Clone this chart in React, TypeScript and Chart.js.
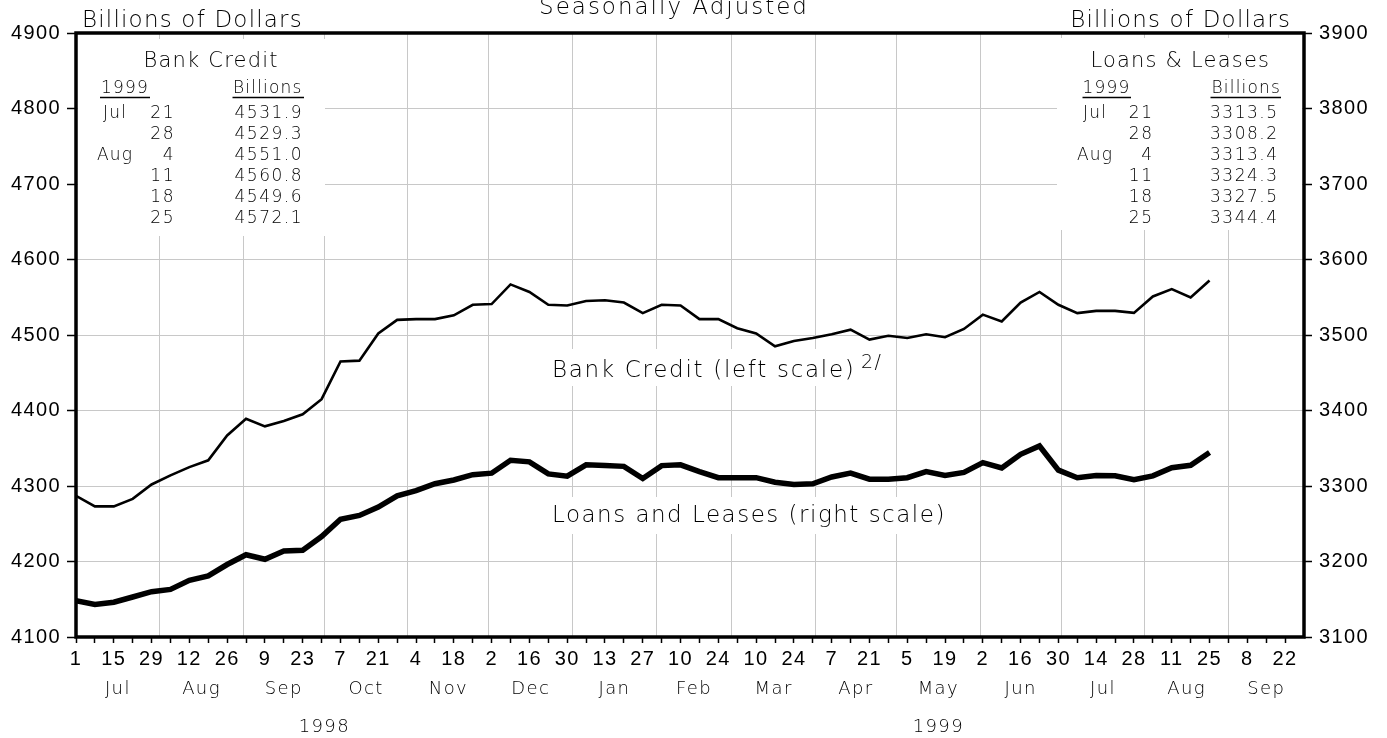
import React, { useEffect, useRef } from 'react';
import { Chart, registerables } from 'chart.js';

Chart.register(...registerables);

// ---------- data ----------
const weekDates = [
  '1998-07-01', '1998-07-08', '1998-07-15', '1998-07-22', '1998-07-29',
  '1998-08-05', '1998-08-12', '1998-08-19', '1998-08-26',
  '1998-09-02', '1998-09-09', '1998-09-16', '1998-09-23', '1998-09-30',
  '1998-10-07', '1998-10-14', '1998-10-21', '1998-10-28',
  '1998-11-04', '1998-11-11', '1998-11-18', '1998-11-25',
  '1998-12-02', '1998-12-09', '1998-12-16', '1998-12-23', '1998-12-30',
  '1999-01-06', '1999-01-13', '1999-01-20', '1999-01-27',
  '1999-02-03', '1999-02-10', '1999-02-17', '1999-02-24',
  '1999-03-03', '1999-03-10', '1999-03-17', '1999-03-24', '1999-03-31',
  '1999-04-07', '1999-04-14', '1999-04-21', '1999-04-28',
  '1999-05-05', '1999-05-12', '1999-05-19', '1999-05-26',
  '1999-06-02', '1999-06-09', '1999-06-16', '1999-06-23', '1999-06-30',
  '1999-07-07', '1999-07-14', '1999-07-21', '1999-07-28',
  '1999-08-04', '1999-08-11', '1999-08-18', '1999-08-25',
];

const bankCredit = [
  4287, 4273, 4273, 4283, 4302,
  4314, 4325, 4334, 4367,
  4389, 4379, 4386, 4395, 4415,
  4465, 4466, 4502, 4520,
  4521, 4521, 4526, 4540,
  4541, 4567, 4557, 4540, 4539,
  4545, 4546, 4543, 4529,
  4540, 4539, 4521, 4521,
  4509, 4502, 4485, 4492, 4496,
  4501, 4507, 4494, 4499,
  4496, 4501, 4497, 4508,
  4527, 4518, 4543, 4557, 4540,
  4529, 4532, 4531.9, 4529.3,
  4551.0, 4560.8, 4549.6, 4572.1,
];

const loansLeases = [
  3148, 3143, 3146, 3153, 3160,
  3163, 3175, 3181, 3196,
  3209, 3203, 3214, 3215, 3233,
  3256, 3261, 3272, 3287,
  3294, 3303, 3308, 3315,
  3317, 3334, 3332, 3316, 3313,
  3328, 3327, 3326, 3310,
  3327, 3328, 3319, 3311,
  3311, 3311, 3305, 3302, 3303,
  3312, 3317, 3309, 3309,
  3311, 3319, 3314, 3318,
  3331, 3324, 3342, 3353, 3321,
  3311, 3314, 3313.5, 3308.2,
  3313.4, 3324.3, 3327.5, 3344.4,
];

const extraTickDates = ['1999-09-01', '1999-09-08', '1999-09-15', '1999-09-22'];
const axisStart = '1998-07-01';
const axisEnd = '1999-09-29';

const dayTickLabels = [
  '1', '15', '29', '12', '26', '9', '23', '7', '21', '4', '18', '2', '16', '30',
  '13', '27', '10', '24', '10', '24', '7', '21', '5', '19', '2', '16', '30',
  '14', '28', '11', '25', '8', '22',
];

const monthStarts = [
  '1998-07-01', '1998-08-01', '1998-09-01', '1998-10-01', '1998-11-01', '1998-12-01',
  '1999-01-01', '1999-02-01', '1999-03-01', '1999-04-01', '1999-05-01', '1999-06-01',
  '1999-07-01', '1999-08-01', '1999-09-01', '1999-10-01',
];
const monthLabels = ['Jul', 'Aug', 'Sep', 'Oct', 'Nov', 'Dec', 'Jan', 'Feb', 'Mar', 'Apr', 'May', 'Jun', 'Jul', 'Aug', 'Sep'];

const yearStarts = ['1998-07-01', '1999-01-01', '2000-01-01'];
const yearLabels = ['1998', '1999'];

const leftMin = 4100, leftMax = 4900;
const rightMin = 3100, rightMax = 3900;
const yStep = 100;

const tableMonths = ['Jul', '', 'Aug', '', '', ''];
const tableDays = ['21', '28', '4', '11', '18', '25'];
const tableYear = '1999';

const titleText = 'Seasonally Adjusted';
const unitText = 'Billions of Dollars';
const bankInsetTitle = 'Bank Credit';
const loansInsetTitle = 'Loans & Leases';
const bankLabel = 'Bank Credit (left scale)';
const bankNote = '2/';
const loansLabel = 'Loans and Leases (right scale)';

// ---------- helpers ----------
const BASE = Date.parse(axisStart);
const dayOf = (s: string) => (Date.parse(s) - BASE) / 864e5;
const X_MIN = 0;
const X_MAX = dayOf(axisEnd);

const tickDates = [...weekDates, ...extraTickDates];
const monthMids = monthLabels.map((_, i) => {
  const a = Math.max(X_MIN, dayOf(monthStarts[i]));
  const b = Math.min(X_MAX, dayOf(monthStarts[i + 1]));
  return (a + b) / 2;
});
const yearMids = yearLabels.map((_, i) => {
  const a = Math.max(X_MIN, dayOf(yearStarts[i]));
  const b = Math.min(X_MAX, dayOf(yearStarts[i + 1]));
  return (a + b) / 2;
});

const SANS = '"DejaVu Sans", sans-serif';
const WEIGHT = '200';
const GRID = '#c8c8c8';

// pick the narrowest installed face for the numeric tick labels
function pickTickFont() {
  const c = document.createElement('canvas').getContext('2d') as CanvasRenderingContext2D;
  const m = (f: string) => { c.font = f; return c.measureText('0123456789').width / 1000; };
  const mono = m('100px monospace');
  const dvNormal = m('100px "DejaVu Sans"');
  const cands = [
    { weight: 'normal', family: '"Liberation Sans Narrow"' },
    { weight: 'normal', family: '"DejaVu Sans Condensed"' },
    { weight: 'condensed', family: '"DejaVu Sans"' },
    { weight: 'normal', family: '"Liberation Sans"' },
    { weight: 'normal', family: '"DejaVu Sans"' },
  ];
  let best = { weight: 'normal', family: '"DejaVu Sans"', r: dvNormal };
  for (const cd of cands) {
    const withMono = m(`${cd.weight} 100px ${cd.family}, monospace`);
    const available = cd.weight === 'condensed' ? withMono < dvNormal - 0.005 : Math.abs(withMono - mono) > 0.003;
    if (available && withMono < best.r) best = { ...cd, r: withMono };
  }
  const pitch = 12.5;
  let size = Math.round(Math.min(23, Math.max(17, (pitch - 1.5) / best.r)));
  let ls = Math.max(0.5, pitch - size * best.r);
  return { family: best.family, weight: best.weight, size, ls };
}
const TICK = pickTickFont();

function txt(ctx: CanvasRenderingContext2D, s: string, x: number, y: number, size: number,
  align: CanvasTextAlign = 'left', ls = 0) {
  ctx.save();
  ctx.font = `${WEIGHT} ${size}px ${SANS}`;
  (ctx as any).letterSpacing = `${ls}px`;
  ctx.textAlign = align;
  ctx.textBaseline = 'alphabetic';
  ctx.fillStyle = '#000';
  let dx = 0;
  if (align === 'right') dx = ls;
  else if (align === 'center') dx = ls / 2;
  ctx.fillText(s, x + dx, y);
  ctx.restore();
}

function hline(ctx: CanvasRenderingContext2D, x1: number, x2: number, y: number) {
  ctx.save();
  ctx.strokeStyle = '#000';
  ctx.lineWidth = 1.5;
  ctx.beginPath();
  ctx.moveTo(x1, y);
  ctx.lineTo(x2, y);
  ctx.stroke();
  ctx.restore();
}

function drawInset(ctx: CanvasRenderingContext2D, title: string, values: number[],
  box: number[], titleX: number, yearX: number, yearUl: number[], bilX: number, bilUl: number[],
  monX: number, dayX: number, valX: number) {
  ctx.save();
  ctx.fillStyle = '#fff';
  ctx.fillRect(box[0], box[1], box[2], box[3]);
  ctx.restore();
  txt(ctx, title, titleX, 66.5, 21, 'center', 1.2);
  txt(ctx, tableYear, yearX, 92.5, 17, 'left', 1.2);
  hline(ctx, yearUl[0], yearUl[1], 97.5);
  txt(ctx, 'Billions', bilX, 92.5, 17, 'left', 1.2);
  hline(ctx, bilUl[0], bilUl[1], 97.5);
  const last = values.slice(-tableDays.length);
  tableDays.forEach((d, i) => {
    const y = 118 + i * 20.9;
    if (tableMonths[i]) txt(ctx, tableMonths[i], monX, y, 17, 'center', 1.2);
    txt(ctx, d, dayX, y, 17, 'right', 1.5);
    txt(ctx, last[i].toFixed(1), valX, y, 17, 'right', 1.5);
  });
}

const decorPlugin = {
  id: 'decor',
  beforeDraw(chart: any) {
    chart.ctx.letterSpacing = `${TICK.ls}px`;
  },
  beforeDatasetsDraw(chart: any) {
    const ctx = chart.ctx as CanvasRenderingContext2D;
    (ctx as any).letterSpacing = '0px';
    drawInset(ctx, bankInsetTitle, bankCredit, [78, 39, 247, 197], 210.5, 101, [100, 150], 233, [232.5, 304],
      114.5, 173.5, 301.5);
    drawInset(ctx, loansInsetTitle, loansLeases, [1057, 38, 245, 192], 1179.7, 1082.5, [1082.5, 1131], 1211.5, [1210.5, 1281],
      1094.5, 1152, 1277);
    // label masks
    ctx.save();
    ctx.fillStyle = '#fff';
    ctx.fillRect(545, 349, 350, 37);
    ctx.fillRect(545, 497, 418, 37);
    ctx.restore();
    txt(ctx, bankLabel, 552, 377, 23, 'left', 1.7);
    txt(ctx, bankNote, 861, 368, 19, 'left', 1.5);
    txt(ctx, loansLabel, 552, 522, 23, 'left', 1.5);
  },
  afterDraw(chart: any) {
    const ctx = chart.ctx as CanvasRenderingContext2D;
    (ctx as any).letterSpacing = '0px';
    const a = chart.chartArea;
    ctx.save();
    ctx.strokeStyle = '#000';
    ctx.lineWidth = 3.5;
    ctx.strokeRect(a.left, a.top, a.right - a.left, a.bottom - a.top);
    ctx.restore();
    txt(ctx, titleText, 673, 14, 23, 'center', 2);
    txt(ctx, unitText, 82, 26.5, 23, 'left', 1.2);
    txt(ctx, unitText, 1290, 26.5, 23, 'right', 1.2);
  },
};

const tickFont = { family: TICK.family, size: TICK.size, weight: TICK.weight };

export default function App() {
  const ref = useRef<HTMLCanvasElement>(null);

  useEffect(() => {
    if (!ref.current) return;
    const chart = new Chart(ref.current, {
      type: 'line',
      data: {
        datasets: [
          {
            label: 'Bank Credit',
            data: weekDates.map((d, i) => ({ x: dayOf(d), y: bankCredit[i] })),
            xAxisID: 'x',
            yAxisID: 'y',
            borderColor: '#000',
            borderWidth: 2.6,
            pointRadius: 0,
            tension: 0,
            fill: false,
          },
          {
            label: 'Loans and Leases',
            data: weekDates.map((d, i) => ({ x: dayOf(d), y: loansLeases[i] })),
            xAxisID: 'x',
            yAxisID: 'y2',
            borderColor: '#000',
            borderWidth: 5.5,
            pointRadius: 0,
            tension: 0,
            fill: false,
          },
        ],
      },
      options: {
        responsive: false,
        animation: false,
        events: [],
        layout: { padding: { top: 33, left: 0, right: 0, bottom: 0 } },
        plugins: { legend: { display: false }, tooltip: { enabled: false }, title: { display: false } },
        scales: {
          x: {
            type: 'linear',
            position: 'bottom',
            weight: 0,
            min: X_MIN,
            max: X_MAX,
            afterBuildTicks: (s: any) => { s.ticks = tickDates.map((d) => ({ value: dayOf(d) })); },
            afterFit: (s: any) => { s.height = 37; },
            ticks: {
              autoSkip: false, maxRotation: 0, minRotation: 0, padding: 4, color: '#000',
              font: tickFont,
              callback: (_v: any, i: number) => (i % 2 === 0 ? dayTickLabels[i / 2] : ''),
            },
            grid: { drawOnChartArea: false, drawTicks: true, tickLength: 6, tickColor: '#000', tickWidth: 1.5 },
            border: { display: false },
          },
          xm: {
            type: 'linear',
            position: 'bottom',
            weight: 1,
            min: X_MIN,
            max: X_MAX,
            afterBuildTicks: (s: any) => { s.ticks = monthMids.map((v) => ({ value: v })); },
            afterFit: (s: any) => { s.height = 30; },
            ticks: {
              autoSkip: false, maxRotation: 0, minRotation: 0, padding: 5, color: '#000',
              font: { family: SANS, size: 18, weight: WEIGHT },
              callback: (_v: any, i: number) => monthLabels[i],
            },
            grid: { display: false, drawTicks: false, drawOnChartArea: false },
            border: { display: false },
          },
          xy: {
            type: 'linear',
            position: 'bottom',
            weight: 2,
            min: X_MIN,
            max: X_MAX,
            afterBuildTicks: (s: any) => { s.ticks = yearMids.map((v) => ({ value: v })); },
            afterFit: (s: any) => { s.height = 34; },
            ticks: {
              autoSkip: false, maxRotation: 0, minRotation: 0, padding: 13, color: '#000',
              font: { family: SANS, size: 18, weight: WEIGHT },
              callback: (_v: any, i: number) => yearLabels[i],
            },
            grid: { display: false, drawTicks: false, drawOnChartArea: false },
            border: { display: false },
          },
          xg: {
            type: 'linear',
            position: 'bottom',
            weight: 3,
            min: X_MIN,
            max: X_MAX,
            afterBuildTicks: (s: any) => {
              s.ticks = monthStarts.map((d) => dayOf(d)).filter((v) => v > X_MIN && v < X_MAX).map((v) => ({ value: v }));
            },
            afterFit: (s: any) => { s.height = 0; },
            ticks: { display: false },
            grid: { display: true, drawOnChartArea: true, drawTicks: false, color: GRID, lineWidth: 1 },
            border: { display: false },
          },
          y: {
            type: 'linear',
            position: 'left',
            min: leftMin,
            max: leftMax,
            afterFit: (s: any) => { s.width = 76; },
            ticks: { stepSize: yStep, padding: 6, color: '#000', font: tickFont, callback: (v: any) => String(v) },
            grid: { color: GRID, lineWidth: 1, tickLength: 9, tickColor: '#000', tickWidth: 1.5 },
            border: { display: false },
          },
          y2: {
            type: 'linear',
            position: 'right',
            min: rightMin,
            max: rightMax,
            afterFit: (s: any) => { s.width = 83; },
            ticks: { stepSize: yStep, padding: 7, color: '#000', font: tickFont, callback: (v: any) => String(v) },
            grid: { drawOnChartArea: false, tickLength: 8, tickColor: '#000', tickWidth: 1.5 },
            border: { display: false },
          },
        },
      } as any,
      plugins: [decorPlugin],
    });
    return () => chart.destroy();
  }, []);

  return (
    <div style={{ position: 'fixed', left: 0, top: 0, width: 1387, height: 738, background: '#fff' }}>
      <canvas ref={ref} width={1387} height={738} style={{ display: 'block' }} />
    </div>
  );
}
